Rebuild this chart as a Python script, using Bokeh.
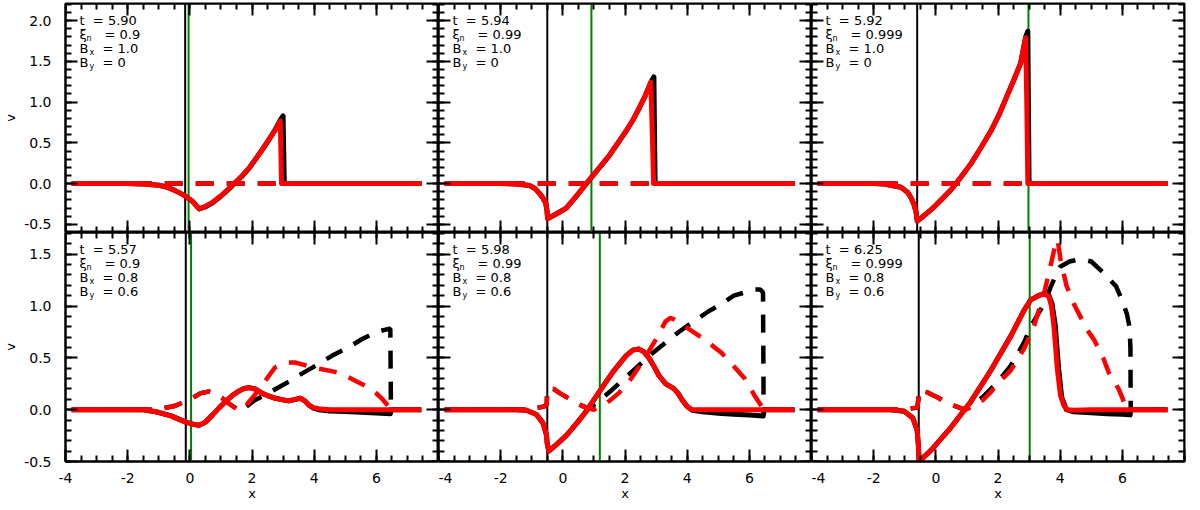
from bokeh.plotting import figure
from bokeh.models import Range1d, LinearAxis, SingleIntervalTicker, Span, PrintfTickFormatter
from bokeh.layouts import gridplot
from bokeh.embed import file_html
from bokeh.resources import INLINE
from bokeh.core.properties import value

FONT = "DejaVu Sans"
X_RANGE = (-4.0, 8.0)
Y_RANGE_TOP = (-0.6, 2.21)
Y_RANGE_BOTTOM = (-0.5, 1.71)

T_LABELS = ["5.90", "5.94", "5.92", "5.57", "5.98", "6.25"]
XI_LABELS = ["0.9", "0.99", "0.999", "0.9", "0.99", "0.999"]
BX_LABELS = ["1.0", "1.0", "1.0", "0.8", "0.8", "0.8"]
BY_LABELS = ["0", "0", "0", "0.6", "0.6", "0.6"]

BLACK_LINE_X = [-0.15, -0.5, -0.6, -0.13, -0.5, -0.55]
GREEN_LINE_X = [-0.04, 0.92, 2.98, 0.04, 1.19, 3.02]

# ---- top row dashed (transverse velocity, zero) ----
TOP_DASH_X = [-3.8, 7.45]
TOP_DASH_Y = [0.0, 0.0]

# ---- panel 1 ----
P1_RED_X = [-3.8, -2.0, -1.5, -1.0, -0.77, -0.5, -0.3, -0.16, 0.09, 0.3, 0.5, 0.73, 1.0, 1.26, 1.5, 1.69, 1.9, 2.11, 2.33, 2.54, 2.75, 2.91, 2.93, 2.95, 7.45]
P1_RED_Y = [0.0, 0.0, -0.005, -0.02, -0.04, -0.08, -0.12, -0.15, -0.22, -0.31, -0.28, -0.23, -0.15, -0.06, 0.03, 0.10, 0.19, 0.30, 0.42, 0.54, 0.66, 0.77, 0.40, 0.0, 0.0]
P1_BLACK_X = [-3.8, -2.0, -1.5, -1.0, -0.77, -0.5, -0.3, -0.16, 0.09, 0.3, 0.5, 0.73, 1.0, 1.26, 1.5, 1.69, 1.9, 2.11, 2.33, 2.54, 2.75, 2.91, 3.0, 3.02, 3.04, 7.45]
P1_BLACK_Y = [0.0, 0.0, -0.005, -0.02, -0.04, -0.08, -0.12, -0.15, -0.22, -0.31, -0.285, -0.235, -0.155, -0.065, 0.025, 0.095, 0.185, 0.295, 0.415, 0.535, 0.665, 0.78, 0.83, 0.40, 0.0, 0.0]

# ---- panel 2 ----
P2_RED_X = [-3.8, -2.0, -1.5, -1.07, -0.9, -0.75, -0.65, -0.55, -0.51, -0.49, -0.2, 0.11, 0.5, 0.92, 1.2, 1.49, 1.75, 2.03, 2.25, 2.45, 2.65, 2.83, 2.88, 2.92, 7.45]
P2_RED_Y = [0.0, 0.0, -0.005, -0.024, -0.06, -0.12, -0.17, -0.24, -0.33, -0.43, -0.37, -0.30, -0.12, 0.08, 0.21, 0.345, 0.49, 0.645, 0.78, 0.925, 1.08, 1.245, 0.6, 0.0, 0.0]
P2_BLACK_X = [-3.8, -2.0, -1.5, -1.07, -0.9, -0.75, -0.65, -0.55, -0.51, -0.49, -0.2, 0.11, 0.5, 0.92, 1.2, 1.49, 1.75, 2.03, 2.25, 2.45, 2.65, 2.83, 2.93, 2.95, 2.97, 7.45]
P2_BLACK_Y = [0.0, 0.0, -0.005, -0.024, -0.06, -0.12, -0.17, -0.24, -0.33, -0.43, -0.37, -0.30, -0.125, 0.075, 0.205, 0.34, 0.485, 0.64, 0.775, 0.92, 1.075, 1.245, 1.31, 0.6, 0.0, 0.0]

# ---- panel 3 ----
P3_RED_X = [-3.8, -2.0, -1.65, -1.12, -0.9, -0.79, -0.7, -0.63, -0.6, -0.4, -0.15, 0.17, 0.49, 0.81, 1.13, 1.45, 1.77, 2.05, 2.3, 2.52, 2.73, 2.89, 2.93, 2.96, 7.45]
P3_RED_Y = [0.0, 0.0, -0.005, -0.044, -0.11, -0.18, -0.26, -0.36, -0.46, -0.40, -0.32, -0.2, -0.076, 0.08, 0.245, 0.44, 0.645, 0.86, 1.085, 1.28, 1.48, 1.79, 0.9, 0.0, 0.0]
P3_BLACK_X = [-3.8, -2.0, -1.65, -1.12, -0.9, -0.79, -0.7, -0.63, -0.6, -0.4, -0.15, 0.17, 0.49, 0.81, 1.13, 1.45, 1.77, 2.05, 2.3, 2.52, 2.73, 2.89, 2.96, 2.98, 3.0, 7.45]
P3_BLACK_Y = [0.0, 0.0, -0.005, -0.044, -0.11, -0.18, -0.26, -0.36, -0.46, -0.40, -0.32, -0.2, -0.076, 0.08, 0.245, 0.44, 0.645, 0.86, 1.085, 1.28, 1.48, 1.80, 1.87, 0.9, 0.0, 0.0]

# ---- panel 4 ----
P4_RED_X = [-3.8, -1.5, -1.09, -0.6, -0.13, 0.1, 0.3, 0.5, 0.73, 0.95, 1.15, 1.38, 1.58, 1.75, 1.9, 2.1, 2.33, 2.55, 2.75, 3.0, 3.18, 3.4, 3.55, 3.7, 3.82, 3.98, 4.14, 4.5, 7.45]
P4_RED_Y = [0.0, 0.0, -0.02, -0.06, -0.12, -0.14, -0.15, -0.12, -0.05, 0.02, 0.08, 0.14, 0.18, 0.205, 0.213, 0.2, 0.157, 0.13, 0.11, 0.095, 0.085, 0.1, 0.11, 0.085, 0.047, 0.02, 0.01, 0.0, 0.0]
P4_BLACK_X = [-3.8, -1.5, -1.09, -0.6, -0.13, 0.1, 0.3, 0.5, 0.73, 0.95, 1.15, 1.38, 1.58, 1.75, 1.9, 2.1, 2.33, 2.55, 2.75, 3.0, 3.18, 3.4, 3.55, 3.7, 3.82, 3.98, 4.14, 4.5, 5.0, 5.5, 6.0, 6.45, 6.47, 7.45]
P4_BLACK_Y = [0.0, 0.0, -0.02, -0.06, -0.12, -0.14, -0.15, -0.12, -0.05, 0.02, 0.08, 0.14, 0.18, 0.205, 0.213, 0.2, 0.157, 0.13, 0.11, 0.095, 0.085, 0.1, 0.11, 0.085, 0.047, 0.015, 0.0, -0.012, -0.018, -0.025, -0.032, -0.04, 0.0, 0.0]
P4_RDASH_X = [-3.8, -1.5, -1.0, -0.5, -0.13, 0.07, 0.35, 0.62, 0.85, 1.05, 1.3, 1.55, 1.7, 2.0, 2.33, 2.55, 2.75, 3.0, 3.18, 3.4, 3.7, 3.9, 4.25, 4.6, 4.89, 5.32, 5.85, 6.17, 6.44, 6.5, 7.45]
P4_RDASH_Y = [0.0, 0.0, 0.005, 0.035, 0.08, 0.11, 0.16, 0.175, 0.15, 0.11, 0.05, 0.0, 0.0, 0.11, 0.235, 0.33, 0.41, 0.445, 0.455, 0.455, 0.43, 0.41, 0.39, 0.37, 0.345, 0.28, 0.2, 0.11, 0.015, 0.0, 0.0]
P4_BDASH_X = [-3.8, -1.5, -1.0, -0.5, -0.13, 0.07, 0.35, 0.62, 0.85, 1.05, 1.3, 1.62, 2.1, 2.53, 3.18, 3.5, 4.14, 4.57, 5.1, 5.53, 6.0, 6.4, 6.45, 6.47, 7.45]
P4_BDASH_Y = [0.0, 0.0, 0.005, 0.035, 0.08, 0.11, 0.16, 0.175, 0.15, 0.11, 0.05, -0.016, 0.094, 0.16, 0.27, 0.33, 0.44, 0.52, 0.6, 0.68, 0.75, 0.78, 0.78, 0.0, 0.0]

# ---- panel 5 ----
P5_RED_X = [-3.8, -1.5, -1.17, -0.85, -0.64, -0.53, -0.5, -0.45, -0.2, 0.11, 0.45, 0.75, 1.17, 1.6, 2.03, 2.25, 2.45, 2.6, 2.77, 2.93, 3.09, 3.31, 3.45, 3.57, 3.7, 3.84, 4.0, 4.16, 7.45]
P5_RED_Y = [0.0, 0.0, -0.005, -0.047, -0.127, -0.24, -0.33, -0.40, -0.335, -0.25, -0.13, -0.016, 0.173, 0.36, 0.52, 0.575, 0.585, 0.56, 0.5, 0.42, 0.33, 0.25, 0.225, 0.204, 0.16, 0.094, 0.03, 0.0, 0.0]
P5_BLACK_X = [-3.8, -1.5, -1.17, -0.85, -0.64, -0.53, -0.5, -0.45, -0.2, 0.11, 0.45, 0.75, 1.17, 1.6, 2.03, 2.25, 2.45, 2.6, 2.77, 2.93, 3.09, 3.31, 3.45, 3.57, 3.7, 3.84, 4.0, 4.16, 4.5, 5.0, 5.5, 6.0, 6.45, 6.47, 7.45]
P5_BLACK_Y = [0.0, 0.0, -0.005, -0.047, -0.127, -0.24, -0.33, -0.40, -0.335, -0.25, -0.13, -0.016, 0.173, 0.36, 0.52, 0.575, 0.585, 0.56, 0.5, 0.42, 0.33, 0.25, 0.225, 0.204, 0.16, 0.094, 0.03, -0.005, -0.02, -0.035, -0.045, -0.052, -0.06, 0.0, 0.0]
P5_RDASH_X = [-3.8, -1.5, -1.0, -0.6, -0.52, -0.5, -0.3, -0.1, 0.3, 0.6, 0.85, 1.0, 1.4, 1.8, 2.2, 2.6, 3.0, 3.3, 3.45, 3.6, 4.0, 4.5, 5.1, 5.5, 5.85, 6.16, 6.4, 6.45, 7.45]
P5_RDASH_Y = [0.0, 0.0, 0.01, 0.03, 0.05, 0.2, 0.2, 0.16, 0.09, 0.04, 0.01, 0.0, 0.06, 0.16, 0.3, 0.48, 0.68, 0.85, 0.885, 0.87, 0.79, 0.69, 0.55, 0.42, 0.3, 0.14, 0.03, 0.0, 0.0]
P5_BDASH_X = [-3.8, -1.5, -1.0, -0.6, -0.52, -0.5, -0.3, -0.1, 0.3, 0.6, 0.85, 1.5, 2.2, 2.9, 3.73, 4.2, 4.69, 5.1, 5.5, 5.95, 6.15, 6.35, 6.44, 6.46, 7.45]
P5_BDASH_Y = [0.0, 0.0, 0.01, 0.03, 0.05, 0.2, 0.2, 0.16, 0.09, 0.04, 0.01, 0.17, 0.36, 0.55, 0.75, 0.85, 0.95, 1.02, 1.1, 1.14, 1.16, 1.16, 1.13, 0.0, 0.0]

# ---- panel 6 ----
P6_RED_X = [-3.8, -1.44, -1.01, -0.74, -0.6, -0.56, -0.54, -0.15, 0.49, 1.13, 1.77, 2.41, 2.84, 3.05, 3.3, 3.48, 3.64, 3.72, 3.8, 3.91, 4.01, 4.12, 4.23, 4.44, 5.0, 7.45]
P6_RED_Y = [0.0, 0.0, -0.016, -0.08, -0.2, -0.35, -0.5, -0.39, -0.17, 0.08, 0.38, 0.71, 0.96, 1.06, 1.1, 1.12, 1.09, 1.0, 0.8, 0.39, 0.14, 0.04, 0.0, -0.005, 0.0, 0.0]
P6_BLACK_X = [-3.8, -1.44, -1.01, -0.74, -0.6, -0.56, -0.54, -0.15, 0.49, 1.13, 1.77, 2.41, 2.84, 3.05, 3.3, 3.48, 3.64, 3.74, 3.84, 3.95, 4.05, 4.2, 4.44, 5.0, 5.5, 6.0, 6.25, 6.27, 7.45]
P6_BLACK_Y = [0.0, 0.0, -0.016, -0.08, -0.2, -0.35, -0.5, -0.39, -0.17, 0.08, 0.38, 0.71, 0.96, 1.06, 1.1, 1.12, 1.10, 1.02, 0.82, 0.40, 0.12, 0.0, -0.02, -0.03, -0.04, -0.045, -0.05, 0.0, 0.0]
P6_RDASH_X = [-3.8, -1.0, -0.6, -0.56, -0.54, -0.3, 0.05, 0.4, 0.8, 0.95, 1.18, 1.5, 1.77, 1.98, 2.41, 2.84, 3.16, 3.48, 3.7, 3.85, 3.92, 4.01, 4.2, 4.44, 4.87, 5.1, 5.4, 5.56, 5.88, 6.1, 6.25, 7.45]
P6_RDASH_Y = [0.0, 0.005, 0.02, 0.1, 0.19, 0.17, 0.12, 0.06, 0.016, 0.0, 0.03, 0.09, 0.17, 0.25, 0.38, 0.59, 0.81, 1.12, 1.4, 1.6, 1.64, 1.45, 1.2, 1.02, 0.77, 0.67, 0.49, 0.36, 0.2, 0.04, 0.0, 0.0]
P6_BDASH_X = [-3.8, -1.0, -0.6, -0.56, -0.54, -0.3, 0.05, 0.4, 0.8, 0.95, 1.5, 2.0, 2.4, 2.84, 3.05, 3.5, 3.7, 3.9, 4.0, 4.3, 4.6, 4.87, 5.0, 5.4, 5.8, 6.0, 6.15, 6.23, 6.26, 6.27, 7.45]
P6_BDASH_Y = [0.0, 0.005, 0.02, 0.1, 0.19, 0.17, 0.12, 0.06, 0.016, 0.0, 0.12, 0.27, 0.42, 0.65, 0.8, 1.03, 1.19, 1.32, 1.38, 1.43, 1.45, 1.44, 1.43, 1.32, 1.19, 1.05, 0.92, 0.8, 0.6, 0.0, 0.0]

PANELS = [
    dict(bd=(TOP_DASH_X, TOP_DASH_Y), bs=(P1_BLACK_X, P1_BLACK_Y), rd=(TOP_DASH_X, TOP_DASH_Y), rs=(P1_RED_X, P1_RED_Y)),
    dict(bd=(TOP_DASH_X, TOP_DASH_Y), bs=(P2_BLACK_X, P2_BLACK_Y), rd=(TOP_DASH_X, TOP_DASH_Y), rs=(P2_RED_X, P2_RED_Y)),
    dict(bd=(TOP_DASH_X, TOP_DASH_Y), bs=(P3_BLACK_X, P3_BLACK_Y), rd=(TOP_DASH_X, TOP_DASH_Y), rs=(P3_RED_X, P3_RED_Y)),
    dict(bd=(P4_BDASH_X, P4_BDASH_Y), bs=(P4_BLACK_X, P4_BLACK_Y), rd=(P4_RDASH_X, P4_RDASH_Y), rs=(P4_RED_X, P4_RED_Y)),
    dict(bd=(P5_BDASH_X, P5_BDASH_Y), bs=(P5_BLACK_X, P5_BLACK_Y), rd=(P5_RDASH_X, P5_RDASH_Y), rs=(P5_RED_X, P5_RED_Y)),
    dict(bd=(P6_BDASH_X, P6_BDASH_Y), bs=(P6_BLACK_X, P6_BLACK_Y), rd=(P6_RDASH_X, P6_RDASH_Y), rs=(P6_RED_X, P6_RED_Y)),
]

FRAME_W = 373
FRAME_H = [229, 229]
LEFT_BORDER = 61
DASH = "18 13"
NBSP = "\u00a0"


def style_axis(ax, interval, n_minor, labels, fmt):
    ax.ticker = SingleIntervalTicker(interval=interval, num_minor_ticks=n_minor)
    ax.formatter = PrintfTickFormatter(format=fmt)
    ax.axis_line_color = "black"
    ax.axis_line_width = 2
    ax.major_tick_in = 12
    ax.major_tick_out = 0
    ax.minor_tick_in = 6
    ax.minor_tick_out = 0
    ax.major_tick_line_width = 2
    ax.minor_tick_line_width = 2
    ax.major_tick_line_color = "black"
    ax.minor_tick_line_color = "black"
    ax.major_label_text_font = FONT
    ax.major_label_text_color = "black"
    ax.axis_label_text_font = FONT
    ax.axis_label_text_font_size = "13px"
    ax.axis_label_text_font_style = "normal"
    ax.axis_label_text_color = "black"
    if labels:
        ax.major_label_text_font_size = "14px"
    else:
        ax.major_label_text_font_size = "0px"
        ax.major_label_text_alpha = 0


def make_panel(i):
    row, col = divmod(i, 3)
    yr = Y_RANGE_TOP if row == 0 else Y_RANGE_BOTTOM
    p = figure(
        x_range=Range1d(*X_RANGE), y_range=Range1d(*yr),
        x_axis_type=None, y_axis_type=None,
        frame_width=FRAME_W, frame_height=FRAME_H[row],
        toolbar_location=None, output_backend="svg", title=None,
        min_border_left=LEFT_BORDER if col == 0 else 0,
        min_border_right=3 if col == 2 else 0,
        min_border_top=3 if row == 0 else 0,
        min_border_bottom=0,
    )
    p.outline_line_color = "black"
    p.outline_line_width = 2
    p.background_fill_color = "white"
    p.border_fill_color = "white"

    xb = LinearAxis()
    style_axis(xb, 2, 4, row == 1, "%d")
    if row == 1:
        xb.axis_label = "x"
        xb.major_label_standoff = 11
        xb.axis_label_standoff = 0
        xb.major_label_overrides = {8: ""}
    else:
        xb.fixed_location = yr[0]
    p.add_layout(xb, "below")

    xa = LinearAxis()
    style_axis(xa, 2, 4, False, "%d")
    xa.fixed_location = yr[1]
    p.add_layout(xa, "above")

    yl = LinearAxis()
    style_axis(yl, 0.5, 5, col == 0, "%.1f")
    if col == 0:
        yl.axis_label = "v"
        yl.major_label_standoff = 14
        yl.axis_label_standoff = 3
    else:
        yl.fixed_location = X_RANGE[0]
    p.add_layout(yl, "left")

    yrx = LinearAxis()
    style_axis(yrx, 0.5, 5, False, "%.1f")
    yrx.fixed_location = X_RANGE[1]
    p.add_layout(yrx, "right")

    p.add_layout(Span(location=BLACK_LINE_X[i], dimension="height", line_color="black",
                      line_width=2, level="underlay"))
    p.add_layout(Span(location=GREEN_LINE_X[i], dimension="height", line_color="#008000",
                      line_width=2, level="underlay"))

    d = PANELS[i]
    p.line(d["bd"][0], d["bd"][1], line_color="black", line_width=4.5, line_dash=DASH)
    p.line(d["bs"][0], d["bs"][1], line_color="black", line_width=5, line_join="round")
    p.line(d["rd"][0], d["rd"][1], line_color="#ff0000", line_width=4.5, line_dash=DASH)
    p.line(d["rs"][0], d["rs"][1], line_color="#ff0000", line_width=5, line_join="round")

    common = dict(text_font=value(FONT), text_color="black", text_align="left",
                  text_baseline="middle")
    x0 = [X_RANGE[0]]
    y0 = [yr[1]]
    rows = [
        ("t" + NBSP + NBSP + "=" + NBSP + T_LABELS[i], None, 0, None, 0),
        ("\u03be", "n", 21, "=" + NBSP + XI_LABELS[i], 39),
        ("B", "x", 24, "=" + NBSP + BX_LABELS[i], 37),
        ("B", "y", 24, "=" + NBSP + BY_LABELS[i], 37),
    ]
    for k, (main, sub, sub_off, rest, rest_off) in enumerate(rows):
        yo = 17 + 14 * k
        p.text(x=x0, y=y0, text=[main], x_offset=14, y_offset=yo, text_font_size="13px", **common)
        if sub:
            p.text(x=x0, y=y0, text=[sub], x_offset=sub_off, y_offset=yo + 4,
                   text_font_size="8px", **common)
        if rest:
            p.text(x=x0, y=y0, text=[rest], x_offset=rest_off, y_offset=yo,
                   text_font_size="13px", **common)
    return p


figs = [make_panel(i) for i in range(6)]
grid = gridplot([figs[0:3], figs[3:6]], toolbar_location=None)

open("out.html", "w").write(file_html(grid, INLINE))
